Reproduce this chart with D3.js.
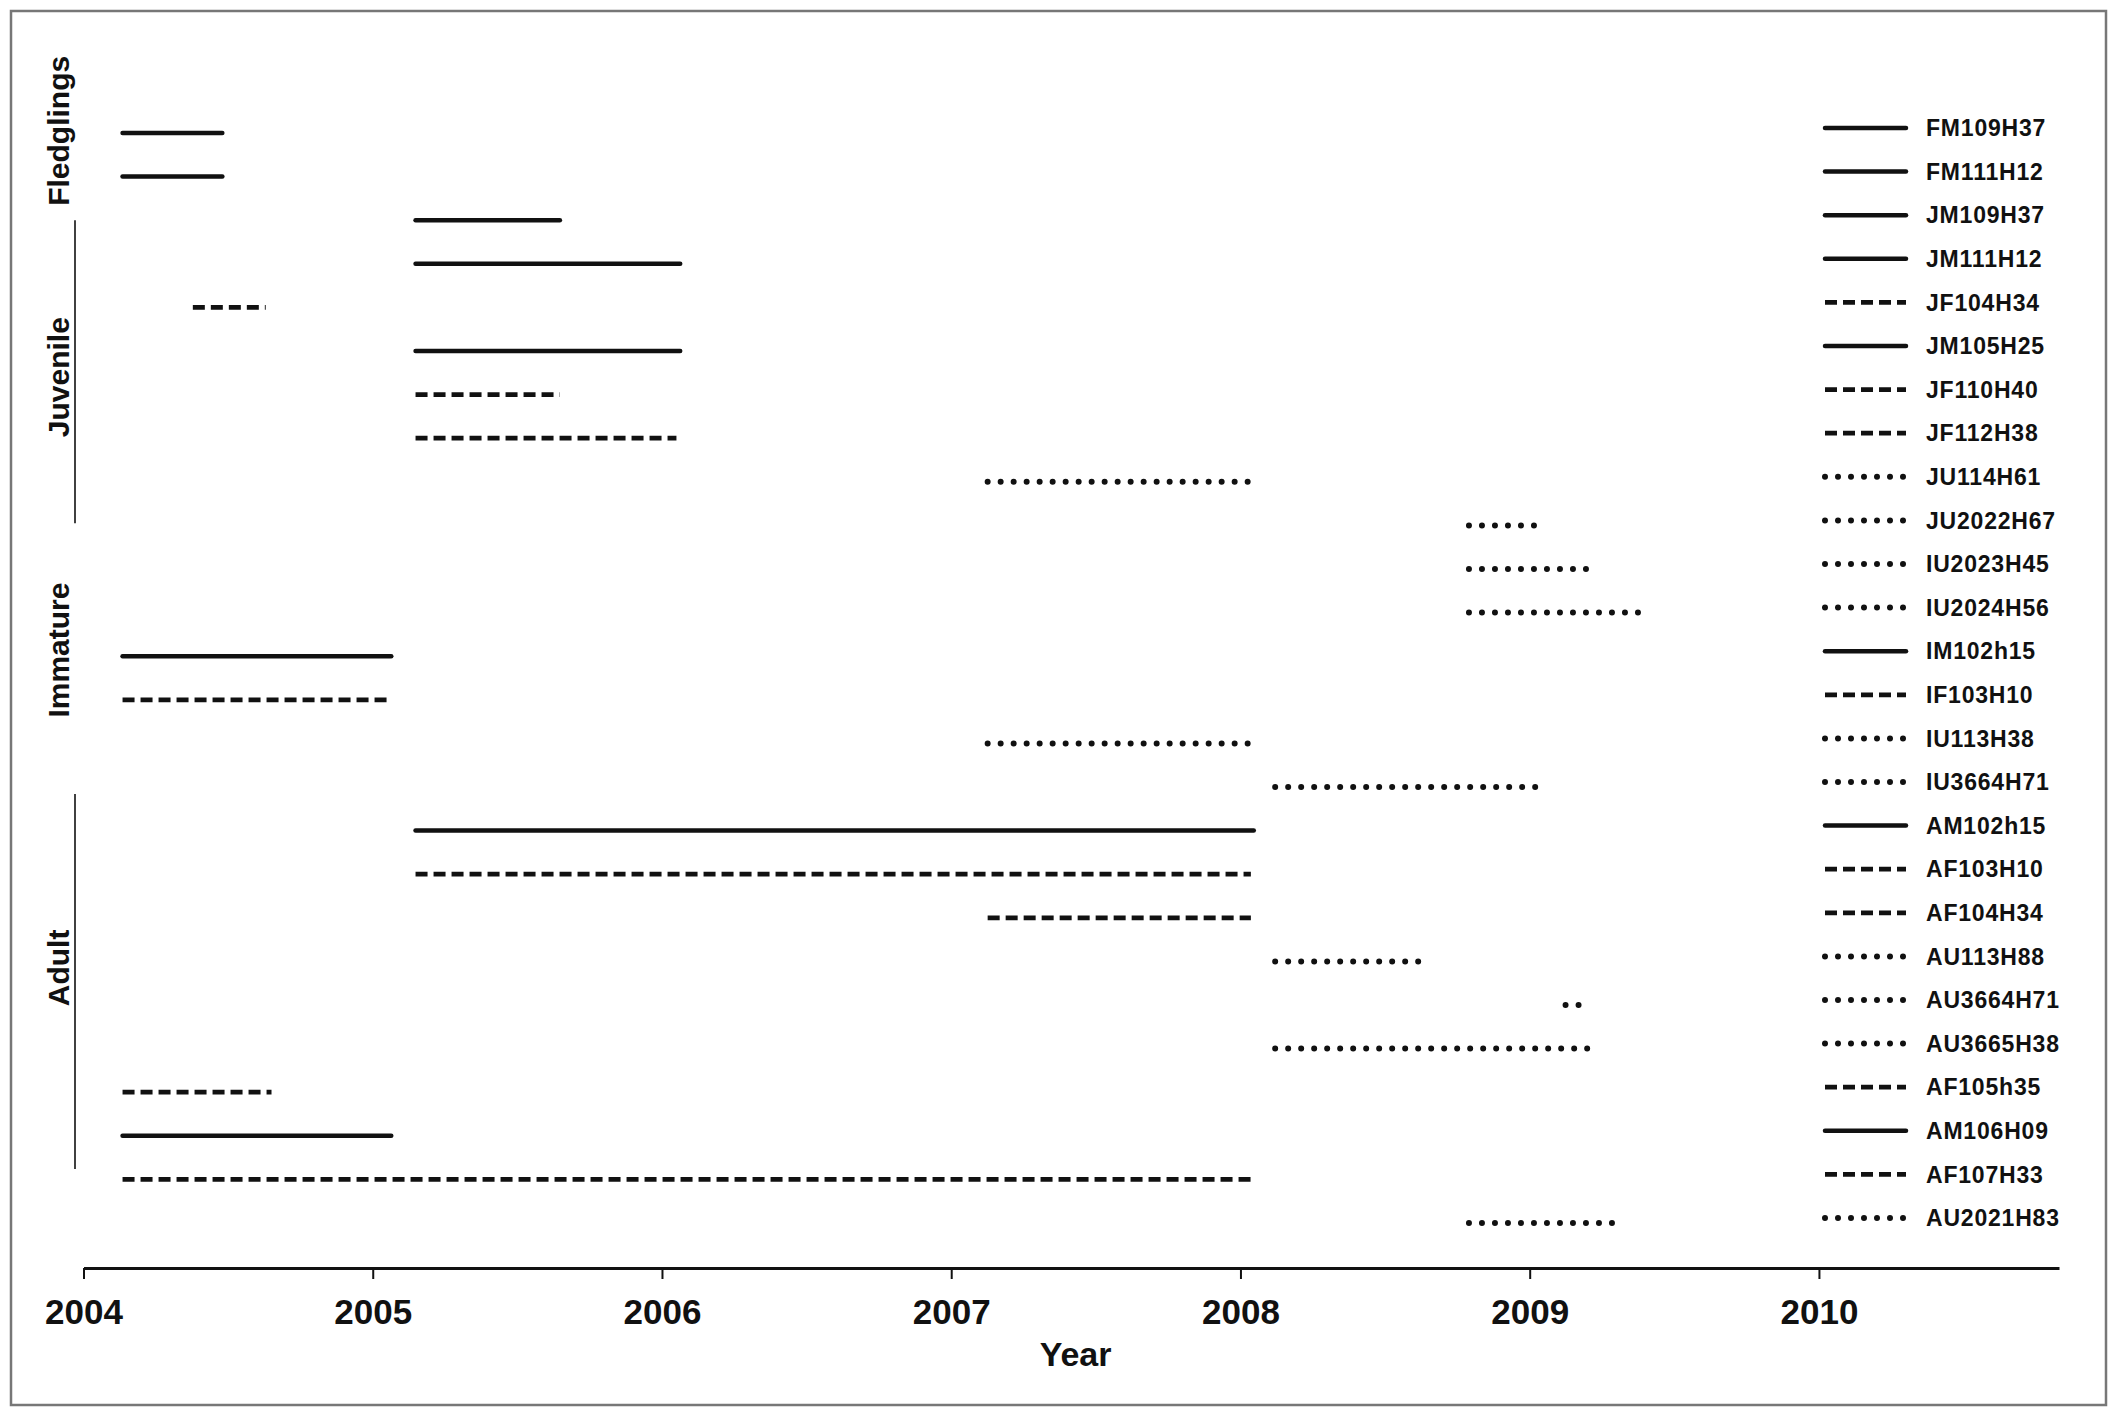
<!DOCTYPE html>
<html>
<head>
<meta charset="utf-8">
<script src="https://cdn.jsdelivr.net/npm/d3@7"></script>
<style>
  body { margin: 0; background: #fff; }
  svg text { font-family: "Liberation Sans", Arial, sans-serif; font-weight: bold; fill: #111; }
</style>
</head>
<body>
<div id="chart"></div>
<script>
// ─── data ─────────────────────────────────────────────────────────────────────
const birds = [
  "FM109H37", "FM111H12", "JM109H37", "JM111H12", "JF104H34", "JM105H25",
  "JF110H40", "JF112H38", "JU114H61", "JU2022H67", "IU2023H45", "IU2024H56",
  "IM102h15", "IF103H10", "IU113H38", "IU3664H71", "AM102h15", "AF103H10",
  "AF104H34", "AU113H88", "AU3664H71", "AU3665H38", "AF105h35", "AM106H09",
  "AF107H33", "AU2021H83"
];
const lineTypes = [
  "solid", "solid", "solid", "solid", "dashed", "solid",
  "dashed", "dashed", "dotted", "dotted", "dotted", "dotted",
  "solid", "dashed", "dotted", "dotted", "solid", "dashed",
  "dashed", "dotted", "dotted", "dotted", "dashed", "solid",
  "dashed", "dotted"
];
// tracking period per bird, decimal years
const startYear = [
  2004.135, 2004.135, 2005.148, 2005.148, 2004.378, 2005.148,
  2005.148, 2005.148, 2007.126, 2008.79, 2008.79, 2008.79,
  2004.135, 2004.135, 2007.126, 2008.12, 2005.148, 2005.148,
  2007.126, 2008.12, 2009.124, 2008.12, 2004.135, 2004.135,
  2004.135, 2008.79
];
const endYear = [
  2004.48, 2004.48, 2005.647, 2006.063, 2004.63, 2006.063,
  2005.647, 2006.05, 2008.036, 2009.026, 2009.21, 2009.38,
  2005.064, 2005.05, 2008.036, 2009.03, 2008.046, 2008.036,
  2008.036, 2008.63, 2009.18, 2009.21, 2004.65, 2005.064,
  2008.036, 2009.30
];
const yearTicks = [2004, 2005, 2006, 2007, 2008, 2009, 2010];
const groupNames = ["Fledglings", "Juvenile", "Immature", "Adult"];

// ─── layout ───────────────────────────────────────────────────────────────────
const W = 2117, H = 1416;
const axisY = 1268;

const x = d3.scaleLinear().domain([2004, 2010.83]).range([83.5, 2059]);
const y = d3.scalePoint().domain(birds).range([133, 1223]);
const rowStep = y.step();

const dashFor = {
  solid:  null,
  dashed: "12,6",
  dotted: "0,13"
};
const widthFor = { solid: 4.5, dashed: 4.8, dotted: 6 };

const svg = d3.select("#chart").append("svg")
  .attr("width", W).attr("height", H);

// frame
svg.append("rect")
  .attr("x", 11).attr("y", 11)
  .attr("width", 2095).attr("height", 1394)
  .attr("fill", "#fff")
  .attr("stroke", "#777").attr("stroke-width", 2.5);

const rows = birds.map((id, i) => ({
  id, type: lineTypes[i], start: startYear[i], end: endYear[i]
}));

// ─── segments ─────────────────────────────────────────────────────────────────
svg.append("g").selectAll("line")
  .data(rows)
  .join("line")
  .attr("x1", d => x(d.start))
  .attr("x2", d => x(d.end))
  .attr("y1", d => y(d.id))
  .attr("y2", d => y(d.id))
  .attr("stroke", "#111")
  .attr("stroke-width", d => widthFor[d.type])
  .attr("stroke-linecap", d => d.type === "dashed" ? "butt" : "round")
  .attr("stroke-dasharray", d => dashFor[d.type]);

// ─── legend ───────────────────────────────────────────────────────────────────
const legend = svg.append("g");
const legRow = legend.selectAll("g")
  .data(rows)
  .join("g")
  .attr("transform", d => `translate(0,${y(d.id) - 5})`);

legRow.append("line")
  .attr("x1", 1825).attr("x2", 1906)
  .attr("stroke", "#111")
  .attr("stroke-width", d => widthFor[d.type])
  .attr("stroke-linecap", d => d.type === "dashed" ? "butt" : "round")
  .attr("stroke-dasharray", d => dashFor[d.type]);

legRow.append("text")
  .attr("x", 1926)
  .attr("dy", "0.36em")
  .style("font-size", "23px")
  .style("letter-spacing", "0.8px")
  .text(d => d.id);

// ─── x axis ───────────────────────────────────────────────────────────────────
const axis = svg.append("g")
  .attr("transform", `translate(0,${axisY})`)
  .call(d3.axisBottom(x)
    .tickValues(yearTicks)
    .tickFormat(d3.format("d"))
    .tickSize(11)
    .tickSizeOuter(0));

axis.select(".domain").attr("stroke", "#111").attr("stroke-width", 3);
axis.selectAll(".tick line").attr("stroke", "#111").attr("stroke-width", 2);
axis.selectAll(".tick text")
  .attr("dy", null)
  .attr("y", 56)
  .attr("fill", "#111")
  .style("font-size", "35px")
  .style("font-family", "'Liberation Sans', Arial, sans-serif")
  .style("font-weight", "bold");

svg.append("text")
  .attr("x", x(2007.43))
  .attr("y", 1366)
  .attr("text-anchor", "middle")
  .style("font-size", "34px")
  .text("Year");

// ─── age-class labels ─────────────────────────────────────────────────────────
// label centre and bracket span, in row units
const groupLayout = [
  { at: -0.05, from: null,  to: null  },
  { at: 5.6,   from: 2,     to: 8.95  },
  { at: 11.86, from: null,  to: null  },
  { at: 19.15, from: 15.16, to: 23.76 }
];
const rowY = r => y(birds[0]) + r * rowStep;

groupNames.forEach((name, i) => {
  const g = groupLayout[i];
  svg.append("text")
    .attr("transform", `translate(58,${rowY(g.at)}) rotate(-90)`)
    .attr("text-anchor", "middle")
    .attr("dy", "0.36em")
    .style("font-size", "30px")
    .text(name);
  if (g.from !== null) {
    svg.append("line")
      .attr("x1", 75).attr("x2", 75)
      .attr("y1", rowY(g.from)).attr("y2", rowY(g.to))
      .attr("stroke", "#111").attr("stroke-width", 1.6);
  }
});
</script>
</body>
</html>
